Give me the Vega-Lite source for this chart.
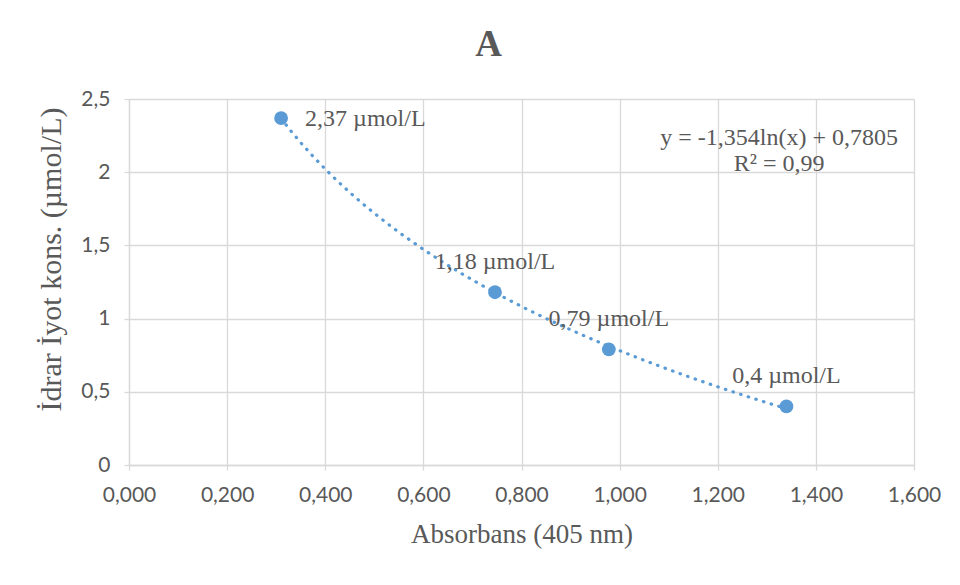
{
  "$schema": "https://vega.github.io/schema/vega-lite/v6.json",
  "autosize": {"type": "none"},
  "width": 785,
  "height": 366,
  "padding": {"left": 129, "top": 99, "right": 46, "bottom": 120},
  "background": "white",
  "title": {
    "text": "A",
    "font": "Liberation Serif",
    "fontSize": 37,
    "fontWeight": "bold",
    "color": "#595959",
    "anchor": "middle",
    "dx": -33,
    "offset": 24
  },
  "data": {
    "values": [
      {"absorbans": 0.31, "konsantrasyon": 2.37, "etiket": "2,37 µmol/L"},
      {"absorbans": 0.746, "konsantrasyon": 1.18, "etiket": "1,18 µmol/L"},
      {"absorbans": 0.978, "konsantrasyon": 0.79, "etiket": "0,79 µmol/L"},
      {"absorbans": 1.34, "konsantrasyon": 0.4, "etiket": "0,4 µmol/L"}
    ]
  },
  "encoding": {
    "x": {
      "field": "absorbans",
      "type": "quantitative",
      "scale": {"domain": [0, 1.6], "nice": false, "zero": true},
      "axis": {
        "title": "Absorbans  (405 nm)",
        "values": [0, 0.2, 0.4, 0.6, 0.8, 1.0, 1.2, 1.4, 1.6],
        "labelExpr": "replace(format(datum.value, '.3f'), '.', ',')",
        "labelFlush": false,
        "labelOverlap": false,
        "tickSize": 5,
        "labelPadding": 14,
        "titlePadding": 16,
        "titleFontSize": 27
      }
    },
    "y": {
      "field": "konsantrasyon",
      "type": "quantitative",
      "scale": {"domain": [0, 2.5], "nice": false},
      "axis": {
        "title": "İdrar İyot  kons. (µmol/L)",
        "values": [0, 0.5, 1, 1.5, 2, 2.5],
        "labelExpr": "replace(format(datum.value, '~g'), '.', ',')",
        "labelFlush": false,
        "labelOverlap": false,
        "tickSize": 5,
        "labelPadding": 14,
        "titlePadding": 14,
        "titleFontSize": 30,
        "titleY": 160
      }
    }
  },
  "layer": [
    {
      "transform": [{"regression": "konsantrasyon", "on": "absorbans", "method": "log"}],
      "mark": {"type": "line", "color": "#5b9bd5", "strokeWidth": 3.2, "strokeCap": "round", "strokeDash": [0.5, 7.5]}
    },
    {
      "mark": {"type": "point", "filled": true, "size": 190, "color": "#5b9bd5", "opacity": 1}
    },
    {
      "transform": [{"filter": "datum.konsantrasyon > 2"}],
      "mark": {"type": "text", "align": "left", "baseline": "middle", "dx": 24, "dy": 1, "font": "Liberation Serif", "fontSize": 24, "fontWeight": "normal", "color": "#595959"},
      "encoding": {"text": {"field": "etiket"}}
    },
    {
      "transform": [{"filter": "datum.konsantrasyon <= 2"}],
      "mark": {"type": "text", "align": "center", "baseline": "alphabetic", "dy": -23, "font": "Liberation Serif", "fontSize": 24, "fontWeight": "normal", "color": "#595959"},
      "encoding": {"text": {"field": "etiket"}}
    },
    {
      "transform": [{"filter": "datum.konsantrasyon > 2"}],
      "mark": {"type": "text", "align": "center", "baseline": "alphabetic", "font": "Liberation Serif", "fontSize": 24, "fontWeight": "normal", "lineHeight": 26, "color": "#595959"},
      "encoding": {
        "x": {"datum": 1.325},
        "y": {"datum": 2.186},
        "text": {"value": ["y = -1,354ln(x) + 0,7805", "R² = 0,99"]}
      }
    }
  ],
  "config": {
    "view": {"stroke": null},
    "axis": {
      "gridColor": "#d9d9d9",
      "gridWidth": 1.3,
      "domainColor": "#d9d9d9",
      "domainWidth": 1.3,
      "tickColor": "#d9d9d9",
      "tickWidth": 1.3,
      "labelFont": "Lato",
      "labelFontSize": 21,
      "labelColor": "#595959",
      "titleFont": "Liberation Serif",
      "titleFontWeight": "normal",
      "titleColor": "#595959"
    }
  }
}
